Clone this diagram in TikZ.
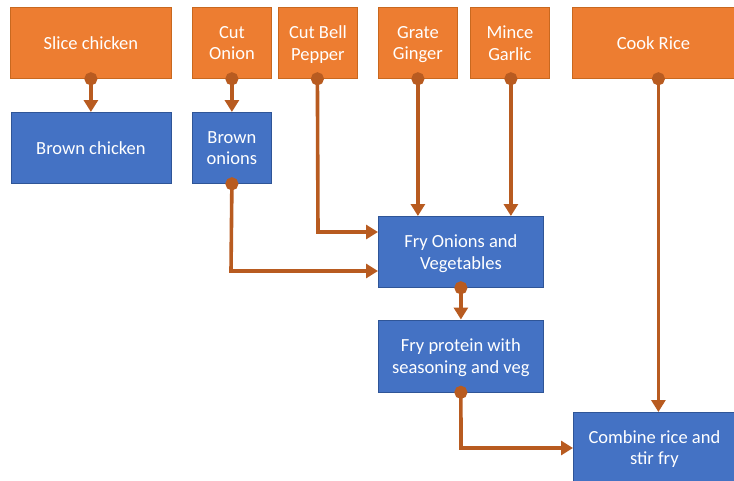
\documentclass[tikz,border=0pt]{standalone}
\usepackage{fontspec}
\setmainfont{Carlito}
\usetikzlibrary{arrows.meta}
\definecolor{orfill}{HTML}{ED7D31}
\definecolor{ordraw}{HTML}{C8681F}
\definecolor{blfill}{HTML}{4472C4}
\definecolor{bldraw}{HTML}{2F5597}
\definecolor{conn}{HTML}{B85B20}
\begin{document}
\begin{tikzpicture}[x=1pt,y=-1pt,
  box/.style={draw, line width=0.8pt, text=white, align=center, inner sep=0pt,
    font=\fontsize{18.5}{21.5}\selectfont, anchor=north west, text depth=0pt},
  obox/.style={box, fill=orfill, draw=ordraw},
  bbox/.style={box, fill=blfill, draw=bldraw},
  link/.style={draw=conn, line width=3.6pt, {Circle[length=13pt,width=13pt]}-{Triangle[length=12pt,width=14pt]}, shorten <=-6.5pt}
]
\useasboundingbox (0,0) rectangle (734,480);
\node[obox, minimum width=161pt, minimum height=71pt] (slice) at (10,7) {Slice chicken};
\node[obox, minimum width=79pt, minimum height=71pt] (cutonion) at (192,7) {Cut\\Onion};
\node[obox, minimum width=79pt, minimum height=71pt] (pepper) at (278,7) {Cut Bell\\Pepper};
\node[obox, minimum width=79pt, minimum height=71pt] (ginger) at (378,7) {Grate\\Ginger};
\node[obox, minimum width=79pt, minimum height=71pt] (garlic) at (470,7) {Mince\\Garlic};
\node[obox, minimum width=162pt, minimum height=71pt] (rice) at (572,7) {Cook Rice};
\node[bbox, minimum width=160pt, minimum height=71pt] (bchicken) at (10.5,112) {Brown chicken};
\node[bbox, minimum width=79pt, minimum height=71pt] (bonions) at (192,112) {Brown\\onions};
\node[bbox, minimum width=165pt, minimum height=71pt] (fryonions) at (378,216) {Fry Onions and\\Vegetables};
\node[bbox, minimum width=165pt, minimum height=72pt] (fryprot) at (378,319.5) {Fry protein with\\seasoning and veg};
\node[bbox, minimum width=162pt, minimum height=70pt] (combine) at (573,412) {Combine rice and\\stir fry};

\coordinate (pepperbend) at (318,232);
\coordinate (onionbend) at (231,271);
\coordinate (protbend) at (461,448);

\draw[link] (slice.south) -- (bchicken.north -| slice.south);
\draw[link] (cutonion.south) -- (bonions.north);
\draw[link] (bonions.south) -- (onionbend) -- (onionbend -| fryonions.west);
\draw[link] ([xshift=-0.5pt]pepper.south) -- (pepperbend) -- (pepperbend -| fryonions.west);
\draw[link] (ginger.south) -- (ginger.south |- fryonions.north);
\draw[link] ([xshift=1pt]garlic.south) -- ([xshift=1pt]garlic.south |- fryonions.north);
\draw[link] (fryonions.south) -- (fryprot.north);
\draw[link] (fryprot.south) -- (protbend) -- (protbend -| combine.west);
\draw[link] ([xshift=5pt]rice.south) -- ([xshift=5pt]rice.south |- combine.north);
\end{tikzpicture}
\end{document}
